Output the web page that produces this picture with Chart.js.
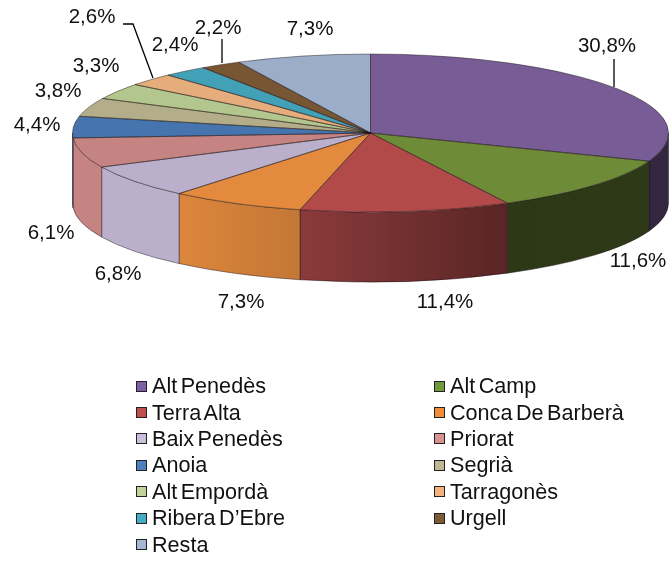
<!DOCTYPE html>
<html>
<head>
<meta charset="utf-8">
<script src="https://cdn.jsdelivr.net/npm/chart.js@4"></script>
<style>
  html, body { margin: 0; padding: 0; background: #fff; }
  #wrap { position: relative; width: 672px; height: 561px; overflow: hidden; }
  #legend {
    position: absolute; left: 136px; top: 373px;
    display: grid; grid-template-columns: 298px 230px; grid-auto-rows: 26.4px;
    font: 21.6px "Liberation Sans", Arial, sans-serif; color: #111; word-spacing: -2.5px;
  }
  #legend div { display: flex; align-items: center; white-space: nowrap; }
  #legend i { width: 9px; height: 9px; border: 1.5px solid #222; margin-right: 5px; flex: none; }
</style>
</head>
<body>
<div id="wrap">
  <canvas id="pie" width="672" height="561"></canvas>
  <div id="legend"></div>
</div>
<script>
// data
const categories = ['Alt Penedès', 'Alt Camp', 'Terra Alta', 'Conca De Barberà', 'Baix Penedès', 'Priorat',
    'Anoia', 'Segrià', 'Alt Empordà', 'Tarragonès', 'Ribera D’Ebre', 'Urgell', 'Resta'];
const shares = [30.8, 11.6, 11.4, 7.3, 6.8, 6.1, 4.4, 3.8, 3.3, 2.6, 2.4, 2.2, 7.3];

const sliceColors = ['#775C96', '#6E8B37', '#B24A4A', '#E38A3E', '#BBB0CB', '#C58382', '#4674AE',
    '#B3AE89', '#B3C68E', '#E5AC7C', '#42A0B7', '#775633', '#9BADC9'];
const legendColors = ['#7E60A2', '#6F9A3C', '#BE4F4C', '#F08C36', '#CABEDC', '#D89290', '#4B7FBD',
    '#BDB893', '#C0D39A', '#F4B27E', '#46ABC6', '#7B5A34', '#A4B8D6'];
// brightness of the side wall, left and right end of each slice
const sideShade = [[0.42, 0.42], [0.4, 0.42], [0.78, 0.5], [0.97, 0.86], [1, 1], [1, 1], [1, 1],
    [1, 1], [1, 1], [1, 1], [1, 1], [1, 1], [1, 1]];

// the flattened pie
const PIE = { cx: 370.5, cy: 133, rx: 298, ry: 79, depth: 70 };

// label centres and leader lines, same order as categories
const labelSpots = [[607, 46], [638, 261], [445, 302], [241, 302], [118, 274], [51, 233], [37, 125],
    [58, 91], [96, 66], [92, 17], [175, 45], [218, 28], [310, 29]];
const leaders = [
    [[614, 59], [614, 87]],
    [[123, 24], [133, 24], [153, 78]],
    [[222, 39], [222, 63]]
];

function shadeColor(hex, k) {
    const n = parseInt(hex.slice(1), 16);
    return 'rgb(' + Math.round((n >> 16) * k) + ',' + Math.round(((n >> 8) & 255) * k) + ',' + Math.round((n & 255) * k) + ')';
}

const pie3d = {
    id: 'pie3d',
    beforeDatasetsDraw(chart) {
        const ctx = chart.ctx;
        const arcs = chart.getDatasetMeta(0).data;
        const { cx, cy, rx, ry, depth } = PIE;
        // side wall, only the front half of the rim shows
        arcs.forEach(function (arc, i) {
            const a0 = Math.max(arc.startAngle, 0);
            const a1 = Math.min(arc.endAngle, Math.PI);
            if (a1 <= a0) return;
            const xr = cx + rx * Math.cos(a0);
            const xl = cx + rx * Math.cos(a1);
            const grad = ctx.createLinearGradient(xl, 0, xr, 0);
            grad.addColorStop(0, shadeColor(sliceColors[i], sideShade[i][0]));
            grad.addColorStop(1, shadeColor(sliceColors[i], sideShade[i][1]));
            ctx.beginPath();
            ctx.ellipse(cx, cy, rx, ry, 0, a0, a1);
            ctx.ellipse(cx, cy + depth, rx, ry, 0, a1, a0, true);
            ctx.closePath();
            ctx.fillStyle = grad;
            ctx.fill();
            ctx.strokeStyle = 'rgba(20,15,25,0.45)';
            ctx.lineWidth = 1;
            ctx.stroke();
        });
        // squash the library's round arcs into the ellipse
        const r = arcs[0].outerRadius;
        ctx.save();
        ctx.translate(cx, cy);
        ctx.scale(rx / r, ry / r);
        ctx.translate(-arcs[0].x, -arcs[0].y);
    },
    afterDatasetsDraw(chart) {
        const ctx = chart.ctx;
        ctx.restore();
        const arcs = chart.getDatasetMeta(0).data;
        const { cx, cy, rx, ry } = PIE;
        ctx.strokeStyle = 'rgba(30,20,20,0.45)';
        ctx.lineWidth = 1;
        arcs.forEach(function (arc) {
            ctx.beginPath();
            ctx.moveTo(cx, cy);
            ctx.ellipse(cx, cy, rx, ry, 0, arc.startAngle, arc.endAngle);
            ctx.closePath();
            ctx.stroke();
        });
        // percent labels
        ctx.fillStyle = '#111';
        ctx.font = '20.5px "Liberation Sans", Arial, sans-serif';
        ctx.textAlign = 'center';
        ctx.textBaseline = 'middle';
        shares.forEach(function (v, i) {
            ctx.fillText(v.toFixed(1).replace('.', ',') + '%', labelSpots[i][0], labelSpots[i][1]);
        });
        ctx.strokeStyle = '#000';
        ctx.lineWidth = 1.3;
        leaders.forEach(function (pts) {
            ctx.beginPath();
            pts.forEach(function (p, i) { i ? ctx.lineTo(p[0], p[1]) : ctx.moveTo(p[0], p[1]); });
            ctx.stroke();
        });
    }
};

new Chart(document.getElementById('pie'), {
    type: 'pie',
    data: {
        labels: categories,
        datasets: [{
            data: shares,
            backgroundColor: sliceColors,
            borderWidth: 0,
            clip: false
        }]
    },
    options: {
        responsive: false,
        animation: false,
        plugins: { legend: { display: false }, tooltip: { enabled: false } }
    },
    plugins: [pie3d]
});

// two column legend
const legendBox = document.getElementById('legend');
categories.forEach(function (name, i) {
    const row = document.createElement('div');
    const mark = document.createElement('i');
    mark.style.background = legendColors[i];
    row.appendChild(mark);
    row.appendChild(document.createTextNode(name));
    legendBox.appendChild(row);
});
</script>
</body>
</html>
